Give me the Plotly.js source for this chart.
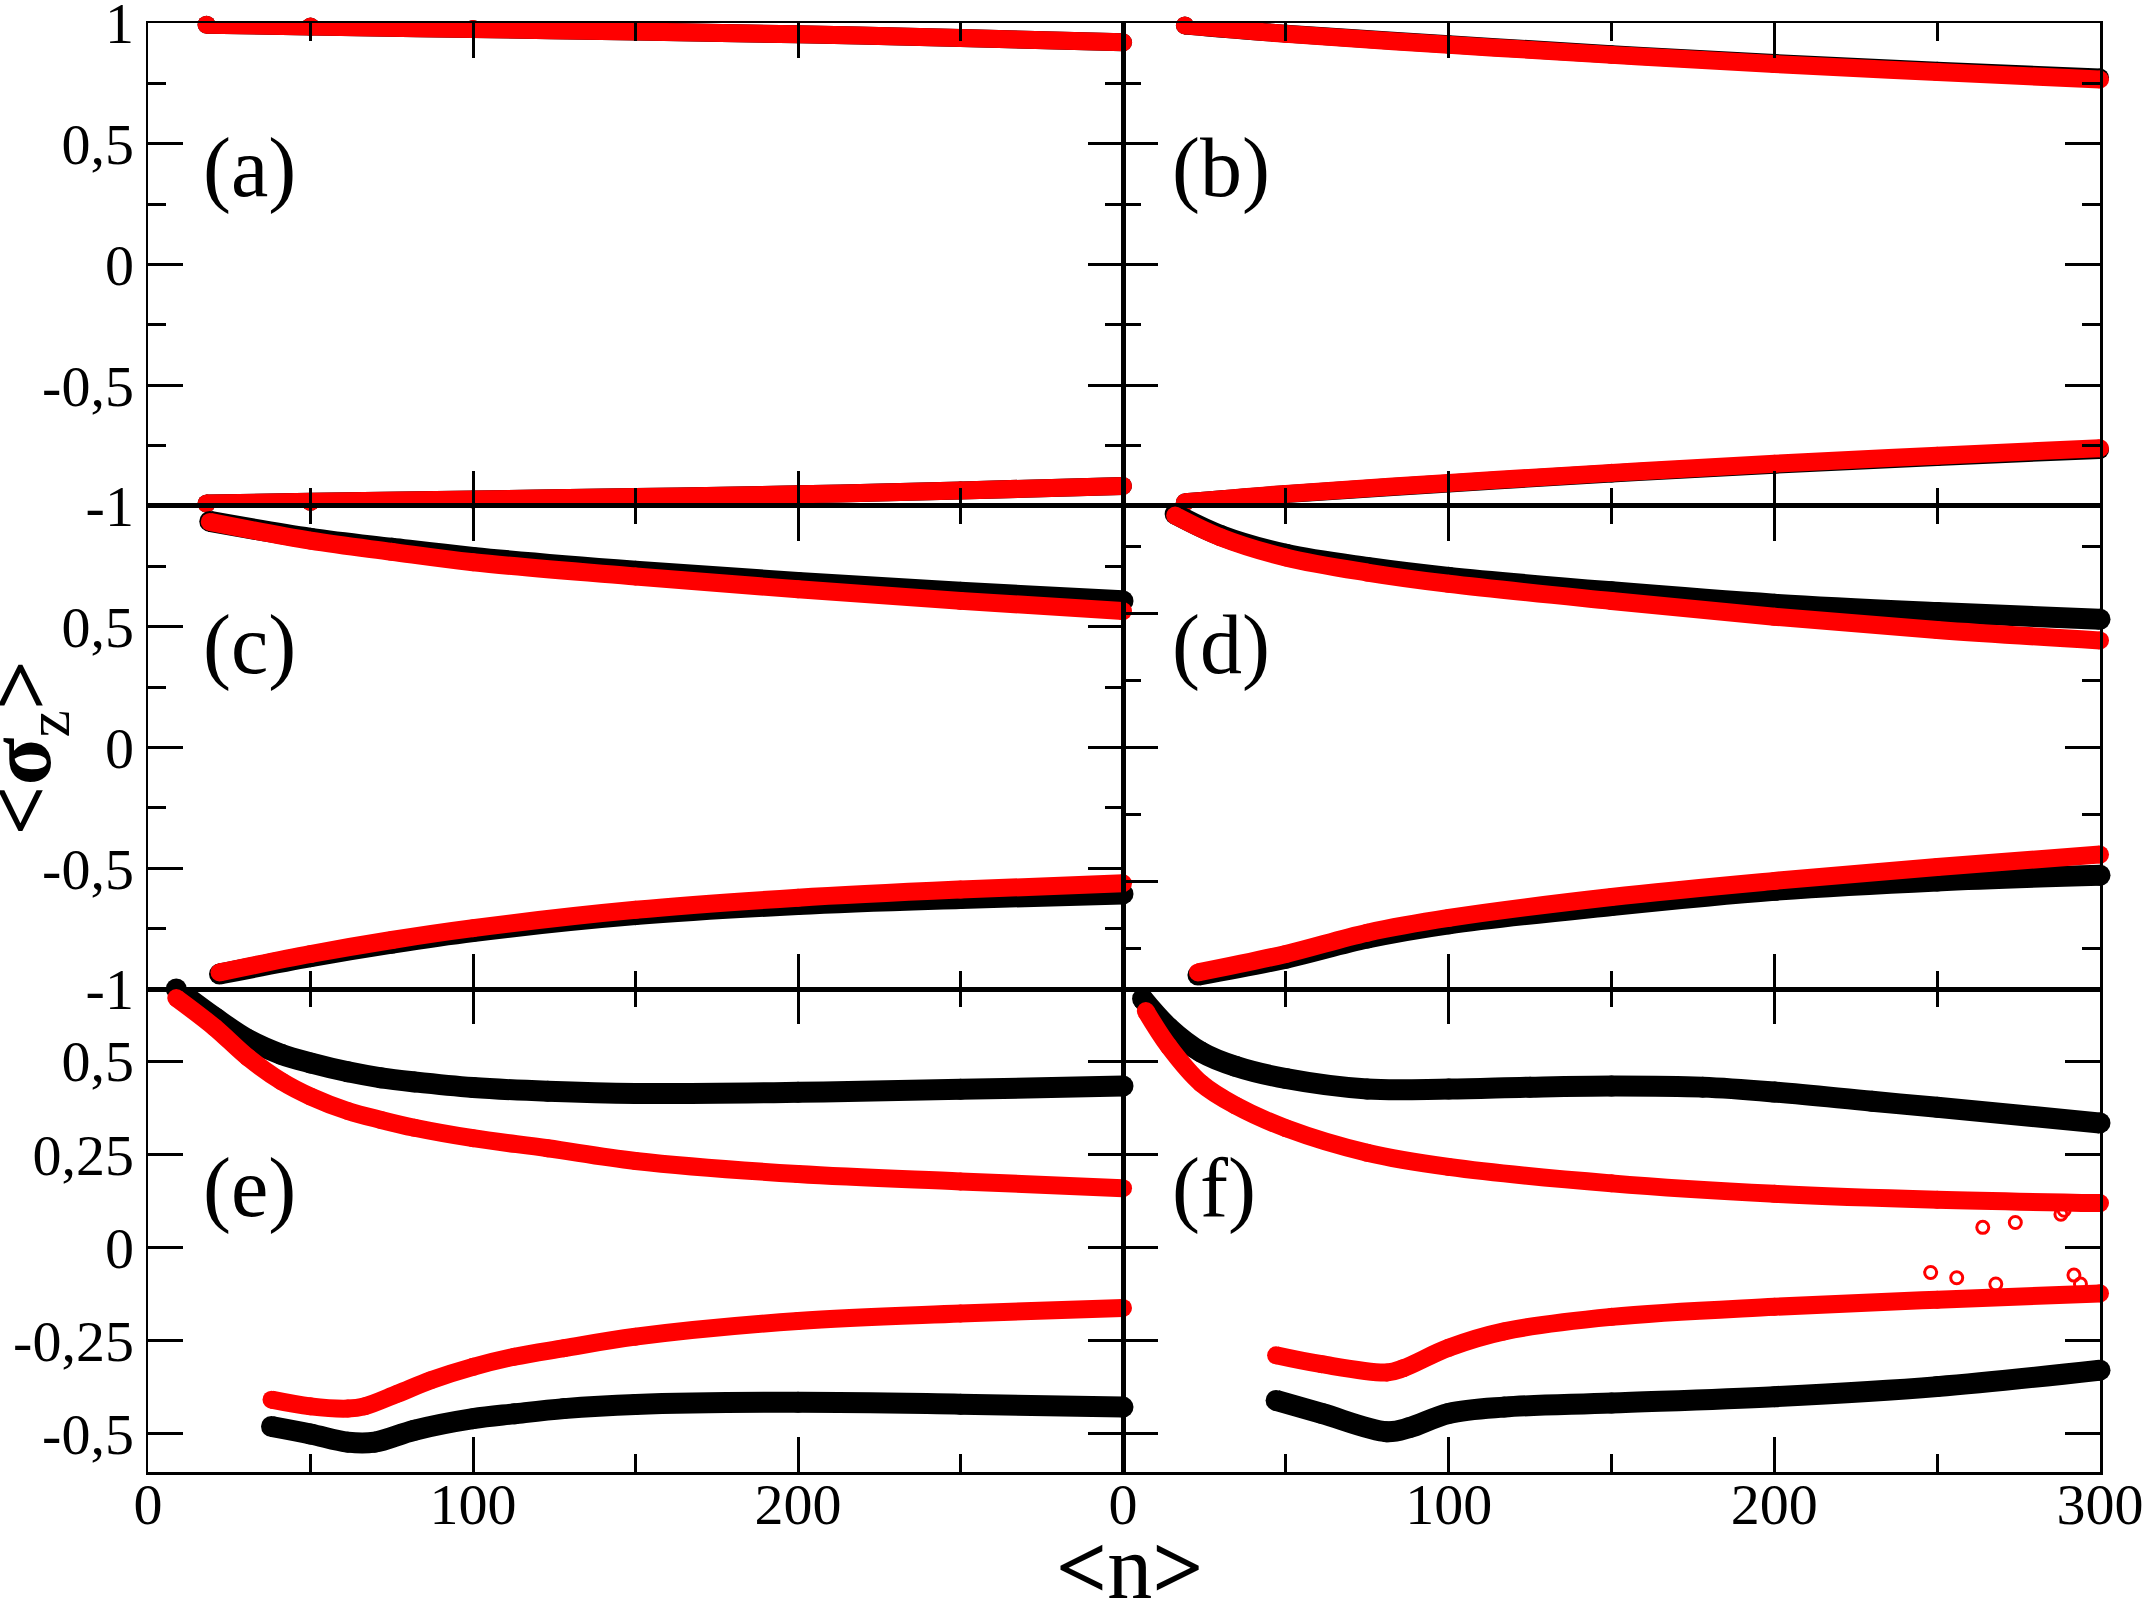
<!DOCTYPE html>
<html>
<head>
<meta charset="utf-8">
<script src="https://cdn.plot.ly/plotly-3.0.1.min.js"></script>
<style>html,body{margin:0;padding:0;background:#fff}</style>
</head>
<body>
<div id="chart" style="width:2142px;height:1600px"></div>
<script>
// ---------- data ----------
// panel (a)
const aX = [18, 50, 100, 150, 200, 250, 300];
const aUpRed = [0.993, 0.985, 0.975, 0.965, 0.953, 0.938, 0.92];
const aUpBlack = [0.993, 0.985, 0.975, 0.965, 0.953, 0.938, 0.92];
const aLoRed = [-0.99, -0.983, -0.973, -0.963, -0.952, -0.936, -0.917];
const aLoBlack = [-0.99, -0.983, -0.973, -0.963, -0.952, -0.936, -0.917];
// panel (b)
const bX = [19, 50, 100, 150, 200, 250, 300];
const bUpRed = [0.99, 0.955, 0.91, 0.868, 0.83, 0.797, 0.766];
const bUpBlack = [0.99, 0.956, 0.912, 0.871, 0.834, 0.802, 0.774];
const bLoRed = [-0.985, -0.95, -0.905, -0.863, -0.825, -0.792, -0.761];
const bLoBlack = [-0.985, -0.951, -0.907, -0.866, -0.829, -0.797, -0.768];
// panel (c)
const cUpX = [19, 50, 75, 100, 150, 200, 250, 300];
const cUpRed = [0.934, 0.856, 0.81, 0.767, 0.708, 0.655, 0.607, 0.565];
const cUpBlack = [0.936, 0.866, 0.825, 0.787, 0.73, 0.683, 0.643, 0.607];
const cLoX = [22, 50, 75, 100, 150, 200, 250, 300];
const cLoRed = [-0.931, -0.855, -0.797, -0.748, -0.672, -0.622, -0.588, -0.562];
const cLoBlack = [-0.938, -0.866, -0.81, -0.762, -0.692, -0.65, -0.625, -0.606];
// panel (d)
const dUpX = [16, 30, 50, 75, 100, 150, 200, 250, 300];
const dUpRed = [0.864, 0.783, 0.708, 0.652, 0.61, 0.546, 0.487, 0.438, 0.399];
const dUpBlack = [0.87, 0.79, 0.72, 0.671, 0.634, 0.58, 0.534, 0.503, 0.478];
const dLoX = [23, 50, 75, 100, 150, 200, 250, 300];
const dLoRed = [-0.838, -0.769, -0.69, -0.635, -0.557, -0.497, -0.445, -0.399];
const dLoBlack = [-0.848, -0.785, -0.71, -0.657, -0.589, -0.532, -0.497, -0.476];
// panel (e)
const eUpX = [8.7, 20.5, 30.7, 41, 50, 61.5, 71.7, 82, 100, 123, 150, 200, 250, 300];
const eUpBlack = [0.693, 0.617, 0.558, 0.518, 0.495, 0.471, 0.455, 0.444, 0.429, 0.419, 0.413, 0.416, 0.424, 0.433];
const eUpRed = [0.669, 0.59, 0.51, 0.446, 0.405, 0.366, 0.342, 0.321, 0.293, 0.266, 0.232, 0.197, 0.177, 0.159];
const eLoRedX = [38, 50, 61.5, 66.6, 76.8, 87, 100, 112.7, 128, 150, 200, 250, 300];
const eLoRed = [-0.408, -0.426, -0.432, -0.426, -0.392, -0.356, -0.32, -0.293, -0.27, -0.239, -0.197, -0.177, -0.162];
const eLoBlackX = [38, 50, 61.5, 69.7, 82, 100, 112.7, 128, 150, 200, 250, 300];
const eLoBlack = [-0.48, -0.5, -0.522, -0.522, -0.49, -0.459, -0.446, -0.432, -0.421, -0.415, -0.42, -0.428];
// panel (f)
const fUpBlackX = [6, 14, 24, 34.5, 50, 75, 100, 125, 150, 178, 200, 230, 250, 300];
const fUpBlack = [0.667, 0.59, 0.524, 0.486, 0.453, 0.425, 0.425, 0.43, 0.433, 0.43, 0.417, 0.392, 0.376, 0.334];
const fUpRedX = [7, 14, 24, 34.5, 50, 75, 100, 150, 200, 250, 300];
const fUpRed = [0.634, 0.54, 0.44, 0.381, 0.32, 0.254, 0.216, 0.172, 0.144, 0.128, 0.119];
const fLoRedX = [47, 61, 81, 86, 100, 117, 150, 200, 250, 300];
const fLoRed = [-0.289, -0.313, -0.335, -0.324, -0.269, -0.225, -0.186, -0.159, -0.14, -0.123];
const fLoBlackX = [47, 61, 81, 88, 100, 117, 150, 200, 250, 300];
const fLoBlack = [-0.41, -0.445, -0.494, -0.483, -0.445, -0.428, -0.417, -0.4, -0.373, -0.329];
const fStrayX = [248, 256, 264, 268, 274, 288, 289, 292, 294];
const fStrayY = [-0.067, -0.081, 0.054, -0.098, 0.067, 0.089, 0.1, -0.074, -0.098];

// tick labels
const xTickVals = [0, 100, 200, 300];
const xTickTextLeft = ['0', '100', '200', ''];
const xTickTextRight = ['0', '100', '200', '300'];
const xMinorVals = [50, 150, 250];
const yTopVals = [-1, -0.5, 0, 0.5, 1];
const yTopText = ['-1', '-0,5', '0', '0,5', '1'];
const yMidText = ['-1', '-0,5', '0', '0,5', ''];
const yMinorVals = [-0.75, -0.25, 0.25, 0.75];
const yDVals = [-0.5, 0, 0.5];
const yBotVals = [-0.5, -0.25, 0, 0.25, 0.5];
const yBotText = ['-0,5', '-0,25', '0', '0,25', '0,5'];
const panelLabels = ['(a)', '(b)', '(c)', '(d)', '(e)', '(f)'];

// ---------- traces ----------
const RED = '#ff0000', BLACK = '#000000';
function curve(xs, ys, n, color, w) {
  return {
    type: 'scatter', mode: 'lines+markers', x: xs, y: ys,
    xaxis: 'x' + (n === 1 ? '' : n), yaxis: 'y' + (n === 1 ? '' : n),
    line: {color: color, width: w, shape: 'spline', smoothing: 1.0},
    marker: {color: color, size: w, symbol: 'circle'},
    hoverinfo: 'skip', showlegend: false, cliponaxis: false
  };
}
const WK = 21, WR = 18;
const data = [
  curve(aX, aUpBlack, 1, BLACK, WR), curve(aX, aLoBlack, 1, BLACK, WR),
  curve(aX, aUpRed, 1, RED, WR), curve(aX, aLoRed, 1, RED, WR),
  curve(bX, bUpBlack, 2, BLACK, WR), curve(bX, bLoBlack, 2, BLACK, WR),
  curve(bX, bUpRed, 2, RED, WR), curve(bX, bLoRed, 2, RED, WR),
  curve(cUpX, cUpBlack, 3, BLACK, WK), curve(cLoX, cLoBlack, 3, BLACK, WK),
  curve(cUpX, cUpRed, 3, RED, WR), curve(cLoX, cLoRed, 3, RED, WR),
  curve(dUpX, dUpBlack, 4, BLACK, WK), curve(dLoX, dLoBlack, 4, BLACK, WK),
  curve(dUpX, dUpRed, 4, RED, WR), curve(dLoX, dLoRed, 4, RED, WR),
  curve(eUpX, eUpBlack, 5, BLACK, WK), curve(eLoBlackX, eLoBlack, 5, BLACK, WK),
  curve(eUpX, eUpRed, 5, RED, WR), curve(eLoRedX, eLoRed, 5, RED, WR),
  curve(fUpBlackX, fUpBlack, 6, BLACK, WK), curve(fLoBlackX, fLoBlack, 6, BLACK, WK),
  curve(fUpRedX, fUpRed, 6, RED, WR), curve(fLoRedX, fLoRed, 6, RED, WR),
  {type: 'scatter', mode: 'markers', x: fStrayX, y: fStrayY, xaxis: 'x6', yaxis: 'y6',
   marker: {symbol: 'circle-open', size: 12, color: RED, line: {color: RED, width: 3}},
   hoverinfo: 'skip', showlegend: false}
];

// ---------- layout ----------
const FONT = 'Liberation Serif, Times New Roman, serif';
function axisBase() {
  return {
    showline: true, linecolor: '#000', linewidth: 2.5, mirror: 'allticks',
    ticks: 'inside', ticklen: 35, tickwidth: 3, tickcolor: '#000',
    showgrid: false, zeroline: false, fixedrange: true,
    tickfont: {family: FONT, size: 58, color: '#000'},
    tickmode: 'array', ticklabeloverflow: 'allow'
  };
}
function xAxis(domain, anchor, showLabels, text) {
  return Object.assign(axisBase(), {
    domain: domain, anchor: anchor, range: [0, 300],
    tickvals: xTickVals, ticktext: text, showticklabels: showLabels,
    ticklabelstandoff: -20,
    minor: {tickmode: 'array', tickvals: xMinorVals, ticks: 'inside', ticklen: 18, tickwidth: 3, tickcolor: '#000', showgrid: false}
  });
}
function yAxis(domain, anchor, range, vals, text, minorVals, showLabels) {
  const ax = Object.assign(axisBase(), {
    domain: domain, anchor: anchor, range: range,
    tickvals: vals, ticktext: text, showticklabels: showLabels
  });
  if (minorVals) ax.minor = {tickmode: 'array', tickvals: minorVals, ticks: 'inside', ticklen: 18, tickwidth: 3, tickcolor: '#000', showgrid: false};
  return ax;
}
const xL = [0, 0.4995], xR = [0.4995, 1];
const r1 = [0.6667, 1], r2 = [0.3333, 0.6667], r3 = [0, 0.3333];
const eRange = [-0.602, 0.693];

const layout = {
  width: 2142, height: 1600,
  margin: {l: 148, r: 42, t: 23, b: 128},
  paper_bgcolor: '#fff', plot_bgcolor: '#fff',
  showlegend: false,
  xaxis: xAxis(xL, 'y', false, xTickTextLeft),
  xaxis2: xAxis(xR, 'y2', false, xTickTextRight),
  xaxis3: xAxis(xL, 'y3', false, xTickTextLeft),
  xaxis4: xAxis(xR, 'y4', false, xTickTextRight),
  xaxis5: xAxis(xL, 'y5', true, xTickTextLeft),
  xaxis6: xAxis(xR, 'y6', true, xTickTextRight),
  yaxis: yAxis(r1, 'x', [-1, 1], yTopVals, yTopText, yMinorVals, true),
  yaxis2: yAxis(r1, 'x2', [-1, 1], yTopVals, yTopText, yMinorVals, false),
  yaxis3: yAxis(r2, 'x3', [-1, 1], yTopVals, yMidText, yMinorVals, true),
  yaxis4: yAxis(r2, 'x4', [-0.9, 0.9], yDVals, ['', '', ''], yMinorVals, false),
  yaxis5: yAxis(r3, 'x5', eRange, yBotVals, yBotText, null, true),
  yaxis6: yAxis(r3, 'x6', eRange, yBotVals, yBotText, null, false),
  annotations: []
};
const labelPos = [[0.0272, 0.900], [0.5236, 0.900], [0.0272, 0.571], [0.5236, 0.571], [0.0272, 0.196], [0.5236, 0.196]];
panelLabels.forEach((t, i) => {
  layout.annotations.push({text: t, xref: 'paper', yref: 'paper', x: labelPos[i][0], y: labelPos[i][1],
    xanchor: 'left', yanchor: 'middle', showarrow: false, font: {family: FONT, size: 84, color: '#000'}});
});
layout.annotations.push({text: '<b>&lt;</b>n<b>&gt;</b>', xref: 'paper', yref: 'paper', x: 0.503, y: -0.066,
  xanchor: 'center', yanchor: 'middle', showarrow: false, font: {family: FONT, size: 90, color: '#000'}});
layout.annotations.push({text: '<b>&lt;σ</b><sub>z</sub><b>&gt;</b>', xref: 'paper', yref: 'paper', x: -0.062, y: 0.5,
  xanchor: 'center', yanchor: 'middle', textangle: -90, showarrow: false, font: {family: FONT, size: 88, color: '#000'}});

Plotly.newPlot('chart', data, layout, {staticPlot: true, displayModeBar: false});
</script>
</body>
</html>
